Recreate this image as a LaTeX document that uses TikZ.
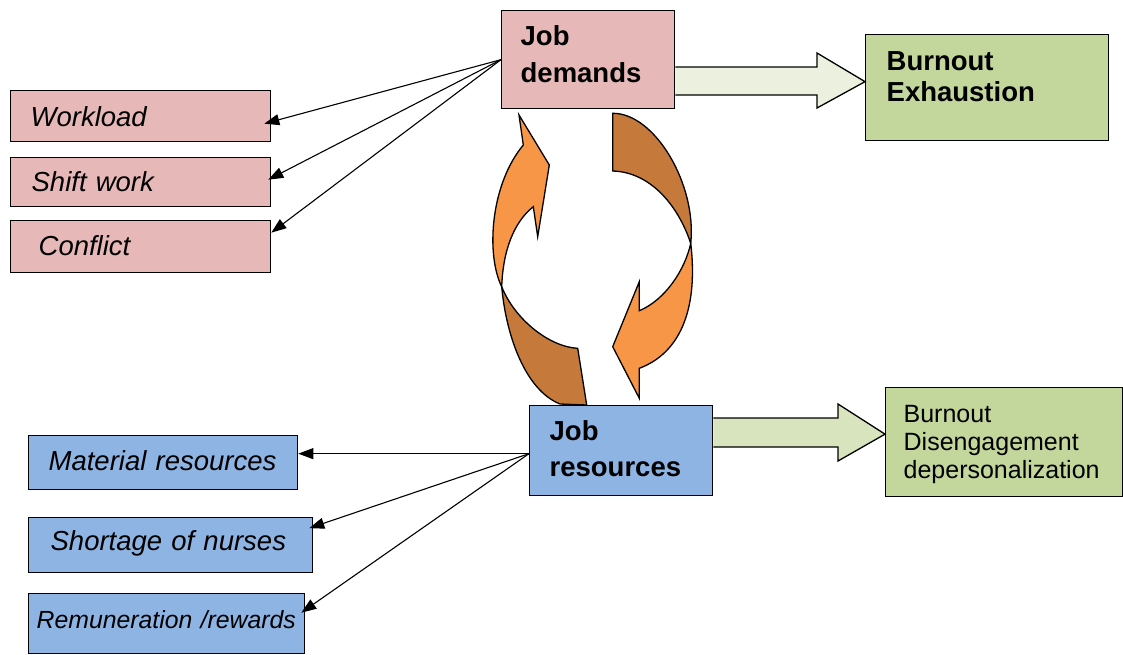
\documentclass[tikz,border=0pt]{standalone}
\usepackage{fontspec}
\setmainfont{Liberation Sans}
\usetikzlibrary{arrows.meta}

\definecolor{dempink}{HTML}{E6B9B8}
\definecolor{burngreen}{HTML}{C3D69B}
\definecolor{resblue}{HTML}{8EB4E3}
\definecolor{arrowpale}{HTML}{EBF1DE}
\definecolor{arrowsage}{HTML}{D7E4BD}
\definecolor{looporange}{HTML}{F79646}
\definecolor{loopbrown}{HTML}{C57A3B}

\begin{document}
\begin{tikzpicture}[x=1pt, y=-1pt]
\tikzset{
  box/.style={draw=black, line width=1.3pt, inner ysep=0pt, align=left, anchor=north west},
  head/.style={font=\bfseries\fontsize{27.5}{#1}\selectfont},
  factor/.style={font=\itshape\fontsize{27.5}{33}\selectfont},
  link/.style={line width=1.1pt, -{Triangle[length=15pt,width=11pt]}},
  fat/.style={draw=black, line width=1.3pt},
  loopy/.style={draw=black, line width=1.3pt},
}
\useasboundingbox (0,0) rectangle (1123,654);

% main boxes
\node[box, fill=dempink, head=37, inner xsep=19pt, text width=135pt, text height=35pt, text depth=63pt] (dem) at (501,10) {Job\\demands};
\node[box, fill=burngreen, head=31, inner xsep=21pt, text width=201pt, text height=36pt, text depth=70pt] (exh) at (865,34) {Burnout\\Exhaustion};
\node[box, fill=resblue, head=36, inner xsep=20pt, text width=143pt, text height=35pt, text depth=55pt] (res) at (529,405) {Job\\resources};
\node[box, fill=burngreen, font=\fontsize{25}{28}\selectfont, inner xsep=18pt, text width=201pt, text height=35pt, text depth=74pt] (dis) at (885,387) {Burnout\\Disengagement\\depersonalization};

% demand factors
\node[box, fill=dempink, factor, inner xsep=20pt, text width=220pt, text height=36pt, text depth=15pt] (wl) at (10,90) {Workload};
\node[box, fill=dempink, factor, inner xsep=21pt, text width=218pt, text height=34pt, text depth=15pt] (sw) at (10,157) {Shift work};
\node[box, fill=dempink, factor, inner xsep=28pt, text width=204pt, text height=35pt, text depth=17pt] (cf) at (10,220) {Conflict};

% resource factors
\node[box, fill=resblue, factor, inner xsep=20pt, text width=229pt, text height=35pt, text depth=19pt] (mat) at (28,435) {Material resources};
\node[box, fill=resblue, factor, inner xsep=22pt, text width=240pt, text height=33pt, text depth=22pt] (sh) at (28,517) {Shortage of nurses};
\node[box, fill=resblue, font=\itshape\fontsize{24.8}{30}\selectfont, inner xsep=8pt, text width=260pt, text height=35pt, text depth=25pt] (rem) at (28,593) {Remuneration /rewards};

% thin arrows
\draw[link] (dem.west) -- ([xshift=-7pt,yshift=-7.5pt]wl.east);
\draw[link] (dem.west) -- ([xshift=-3pt,yshift=2.5pt]sw.east);
\draw[link] (dem.west) -- ([yshift=14pt]cf.east);
\draw[link] ([yshift=-3pt]res.west) -- ([yshift=9pt]mat.east);
\draw[link] ([yshift=-3pt]res.west) -- ([xshift=-4pt,yshift=17pt]sh.east);
\draw[link] ([yshift=-3pt]res.west) -- ([xshift=-4pt,yshift=11pt]rem.east);

% block arrows
\draw[fat, fill=arrowpale] (dem.east |- 0,67) -- (817,67) -- (817,53) -- ([yshift=6pt]exh.west) -- (817,108) -- (817,95) -- (dem.east |- 0,95);
\draw[fat, fill=arrowsage] (res.east |- 0,418) -- (838,418) -- (838,404) -- ([yshift=8pt]dis.west) -- (838,461) -- (838,447) -- (res.east |- 0,447);

% loop arrows
\draw[loopy, fill=loopbrown] (501.7,286.7) .. controls (506,335) and (525,390) .. (560,404) -- (586.7,405) -- (577.7,348.3) .. controls (550,347) and (515,320) .. (501.7,286.7) -- cycle;
\draw[loopy, fill=looporange] (501.7,286.7) .. controls (486,255) and (490,185) .. (523.3,145) -- (519,115) -- (549.3,165) -- (537.7,236.7) -- (533.3,206.7) .. controls (514,222) and (503,250) .. (501.7,286.7) -- cycle;
\draw[loopy, fill=loopbrown] (612.7,113.3) .. controls (655,113) and (697,185) .. (690.7,243.3) .. controls (678,205) and (650,172) .. (612.7,171) -- cycle;
\draw[loopy, fill=looporange] (690.7,243.3) .. controls (697,295) and (688,350) .. (639.3,368.3) -- (639.3,398.3) -- (612.7,346.7) -- (639.3,281.7) -- (639.3,310.7) .. controls (665,300) and (685,270) .. (690.7,243.3) -- cycle;
\end{tikzpicture}
\end{document}
